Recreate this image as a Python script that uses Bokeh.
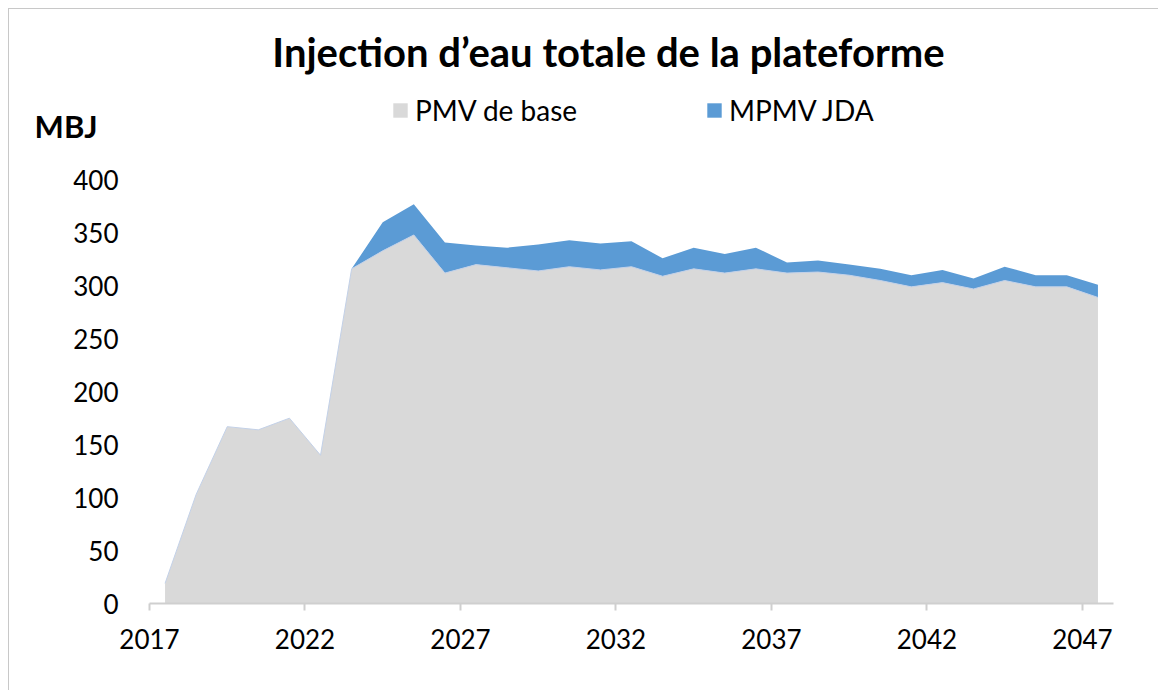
from bokeh.plotting import figure
from bokeh.models import (ColumnDataSource, Range1d, FixedTicker, Label, Legend, LegendItem,
                          LinearAxis)
from bokeh.embed import file_html
from bokeh.resources import INLINE

# ---- data (MBJ) ----
years = list(range(2017, 2048))
pmv_base = [19, 103, 167, 164, 175, 140, 316, 333, 348, 312, 320, 317, 314, 318, 315, 318,
            309, 316, 312, 316, 312, 313, 310, 305, 299, 303, 297, 305, 299, 299, 289]
mpmv_jda = [0, 0, 0, 0, 0, 0, 0, 27, 29, 29, 18, 19, 25, 25, 25, 24,
            17, 20, 18, 20, 10, 11, 10, 11, 11, 12, 10, 13, 11, 11, 12]
tick_years = [2017, 2022, 2027, 2032, 2037, 2042, 2047]
y_ticks = [0, 50, 100, 150, 200, 250, 300, 350, 400]

title_text = "Injection d\u2019eau totale de la plateforme"
unit_text = "MBJ"
unit_pos = 451
series_names = ["PMV de base", "MPMV JDA"]
colors = ["#d9d9d9", "#5b9bd5"]

FONT = "Lato"

src = ColumnDataSource(dict(year=years, base=pmv_base, jda=mpmv_jda))

p = figure(width=1150, height=682, output_backend="svg", toolbar_location=None,
           x_range=Range1d(2016.5, 2047.5), y_range=Range1d(0, 560.9),
           min_border_left=140, min_border_right=46, min_border_top=0, min_border_bottom=88)
p.styles = {"margin-left": "8px", "margin-top": "8px",
            "border-top": "1px solid #c8c8c8", "border-left": "1px solid #c8c8c8"}

areas = p.varea_stack(stackers=["base", "jda"], x="year", color=colors, source=src)
p.line(x="year", y="base", source=src, line_color="#c3d1e8", line_width=1)

p.grid.visible = False
p.outline_line_color = None
p.background_fill_color = "white"
p.border_fill_color = "white"

# x axis: ticks on category boundaries
p.xaxis.ticker = FixedTicker(ticks=[t - 0.5 for t in tick_years])
p.xaxis.major_label_overrides = {t - 0.5: str(t) for t in tick_years}
p.xaxis.axis_line_color = "#cfcfcf"
p.xaxis.axis_line_width = 2
p.xaxis.major_tick_line_color = "#cfcfcf"
p.xaxis.major_tick_line_width = 2
p.xaxis.major_tick_out = 7
p.xaxis.major_tick_in = 0
p.xaxis.minor_tick_line_color = None
p.xaxis.major_label_standoff = 18
p.xaxis.major_label_text_font = FONT
p.xaxis.major_label_text_font_size = "26px"
p.xaxis.major_label_text_color = "black"

yax = p.yaxis[0]
yax.ticker = FixedTicker(ticks=y_ticks)
yax.axis_line_color = None
yax.major_tick_line_color = None
yax.minor_tick_line_color = None
yax.major_label_standoff = 25
yax.major_label_text_font = FONT
yax.major_label_text_font_size = "26px"
yax.major_label_text_color = "black"
yax.major_label_text_line_height = 1.7

# unit label "MBJ" as an extra left axis with a single labelled tick
uax = LinearAxis(ticker=FixedTicker(ticks=[unit_pos]),
                 major_label_overrides={unit_pos: unit_text},
                 axis_line_color=None, major_tick_line_color=None, minor_tick_line_color=None,
                 major_label_standoff=-33, major_label_text_font=FONT,
                 major_label_text_font_style="bold", major_label_text_font_size="31px",
                 major_label_text_color="black")
p.add_layout(uax, "left")

# title
p.add_layout(Label(x=459, y=552, x_units="screen", y_units="screen", text=title_text,
                   text_align="center", text_baseline="middle", text_font=FONT,
                   text_font_style="bold", text_font_size="40px", text_color="black"))

# legends (one per item, placed like the original)
for r, name, loc in zip(areas, series_names, [(242, 476), (556, 476)]):
    lg = Legend(items=[LegendItem(label=name, renderers=[r])], location=loc,
                orientation="horizontal", glyph_width=18, glyph_height=18, label_height=18,
                label_standoff=6, padding=0, margin=0, border_line_color=None,
                background_fill_alpha=0, label_text_font=FONT, label_text_font_size="28px",
                label_text_color="black", label_text_baseline="middle")
    p.add_layout(lg, "center")

open("out.html", "w").write(file_html(p, INLINE))
